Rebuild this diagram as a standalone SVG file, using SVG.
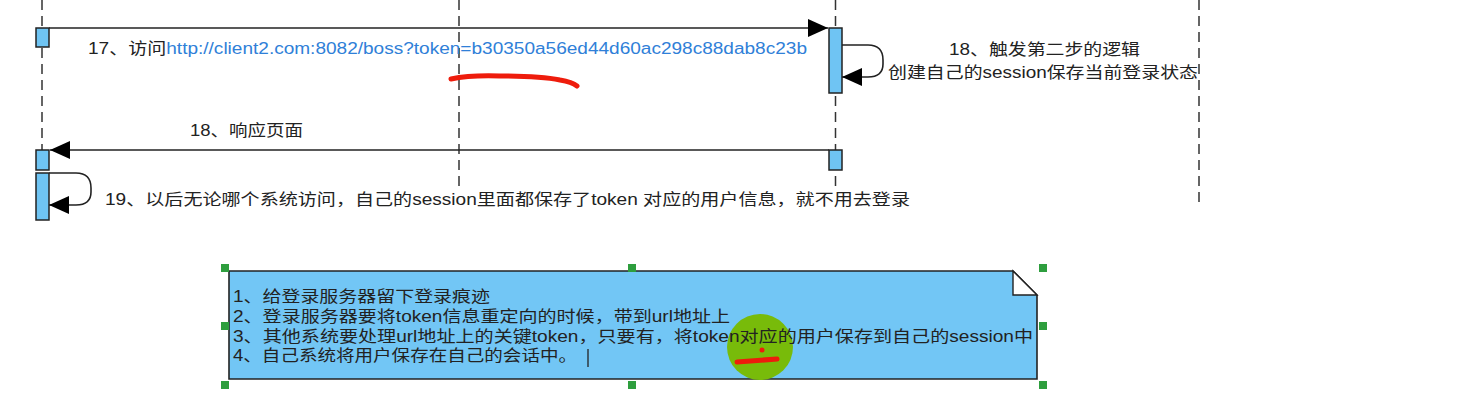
<svg xmlns="http://www.w3.org/2000/svg" width="1461" height="413" viewBox="0 0 1461 413">
<defs>
<style>
.life{stroke:#333;stroke-width:1.5;stroke-dasharray:10,6;fill:none}
.act{fill:#6fc4f3;stroke:#222;stroke-width:1.5}
.msg{stroke:#222;stroke-width:1.6;fill:none}
.t{font-family:"Liberation Sans","Noto Sans CJK SC",sans-serif;font-size:16px;fill:#222}
.link{fill:#2f80d8}
.h{fill:#2e9e3e}
</style>
<marker id="ah" markerWidth="20" markerHeight="18" refX="20" refY="9" orient="auto" markerUnits="userSpaceOnUse">
<path d="M0,0 L20,9 L0,18 Z" fill="#000"/>
</marker>
</defs>
<rect width="1461" height="413" fill="#fff"/>
<g id="lifelines">
<line class="life" x1="42" y1="0" x2="42" y2="222"/>
<line class="life" x1="459" y1="0" x2="459" y2="192"/>
<line class="life" x1="835.5" y1="0" x2="835.5" y2="192"/>
<line class="life" x1="1199" y1="0" x2="1199" y2="207"/>
</g>
<g id="connectors">
<line class="msg" x1="49" y1="28" x2="828" y2="28" marker-end="url(#ah)"/>
<path class="msg" d="M842,45 H868 Q883,45 883,60 V64 Q883,77 868,77 H842" marker-end="url(#ah)"/>
<line class="msg" x1="829" y1="150" x2="50" y2="150" marker-end="url(#ah)"/>
<path class="msg" d="M49,173 H76 Q91,173 91,188 V192 Q91,205 76,205 H49" marker-end="url(#ah)"/>
</g>
<g id="act1"><rect class="act" x="36" y="28" width="13" height="19"/></g>
<g id="act2"><rect class="act" x="829" y="28" width="13" height="65"/></g>
<g id="act3"><rect class="act" x="36" y="150" width="13" height="20"/></g>
<g id="act4"><rect class="act" x="36" y="173" width="13" height="47"/></g>
<g id="act5"><rect class="act" x="829" y="150" width="13" height="20"/></g>
<g id="labels">
<text class="t" x="88" y="54" textLength="719" lengthAdjust="spacingAndGlyphs">17、访问<tspan class="link">http://client2.com:8082/boss?token=b30350a56ed44d60ac298c88dab8c23b</tspan></text>
<text class="t" x="949" y="55" textLength="191" lengthAdjust="spacingAndGlyphs">18、触发第二步的逻辑</text>
<text class="t" x="888" y="78" textLength="310" lengthAdjust="spacingAndGlyphs">创建自己的session保存当前登录状态</text>
<text class="t" x="190" y="136" textLength="113" lengthAdjust="spacingAndGlyphs">18、响应页面</text>
<text class="t" x="105" y="205" textLength="805" lengthAdjust="spacingAndGlyphs">19、以后无论哪个系统访问，自己的session里面都保存了token 对应的用户信息，就不用去登录</text>
</g>
<path d="M451,79 Q470,75 500,76 Q540,76 560,80 Q572,82 577,86" stroke="#ee1c0c" stroke-width="5" fill="none" stroke-linecap="round"/>
<g id="note">
<path d="M229,271 H1013 L1037,295 V379 H229 Z" fill="#72c6f5" stroke="#222" stroke-width="1.6"/>
<path d="M1013,271 V295 H1037 Z" fill="#fff" stroke="#222" stroke-width="1.4"/>
<circle cx="760" cy="347" r="33" fill="#78bb0a"/>
<text class="t" x="233" y="302" textLength="257" lengthAdjust="spacingAndGlyphs">1、给登录服务器留下登录痕迹</text>
<text class="t" x="233" y="322" textLength="497" lengthAdjust="spacingAndGlyphs">2、登录服务器要将token信息重定向的时候，带到url地址上</text>
<text class="t" x="233" y="342" textLength="800" lengthAdjust="spacingAndGlyphs">3、其他系统要处理url地址上的关键token，只要有，将token对应的用户保存到自己的session中</text>
<text class="t" x="233" y="361" textLength="344" lengthAdjust="spacingAndGlyphs">4、自己系统将用户保存在自己的会话中。</text>
<line x1="588" y1="349" x2="588" y2="367" stroke="#222" stroke-width="1.3"/>
<path d="M737,362 L777,359" stroke="#ee1c0c" stroke-width="5" stroke-linecap="round"/>
<circle cx="762" cy="350" r="2.5" fill="#ee1c0c"/>
</g>
<g id="handles">
<rect class="h" x="221" y="264" width="8" height="8"/>
<rect class="h" x="628" y="264" width="8" height="8"/>
<rect class="h" x="1039" y="264" width="8" height="8"/>
<rect class="h" x="221" y="322" width="8" height="8"/>
<rect class="h" x="1039" y="322" width="8" height="8"/>
<rect class="h" x="221" y="381" width="8" height="8"/>
<rect class="h" x="628" y="381" width="8" height="8"/>
<rect class="h" x="1039" y="381" width="8" height="8"/>
</g>
</svg>
